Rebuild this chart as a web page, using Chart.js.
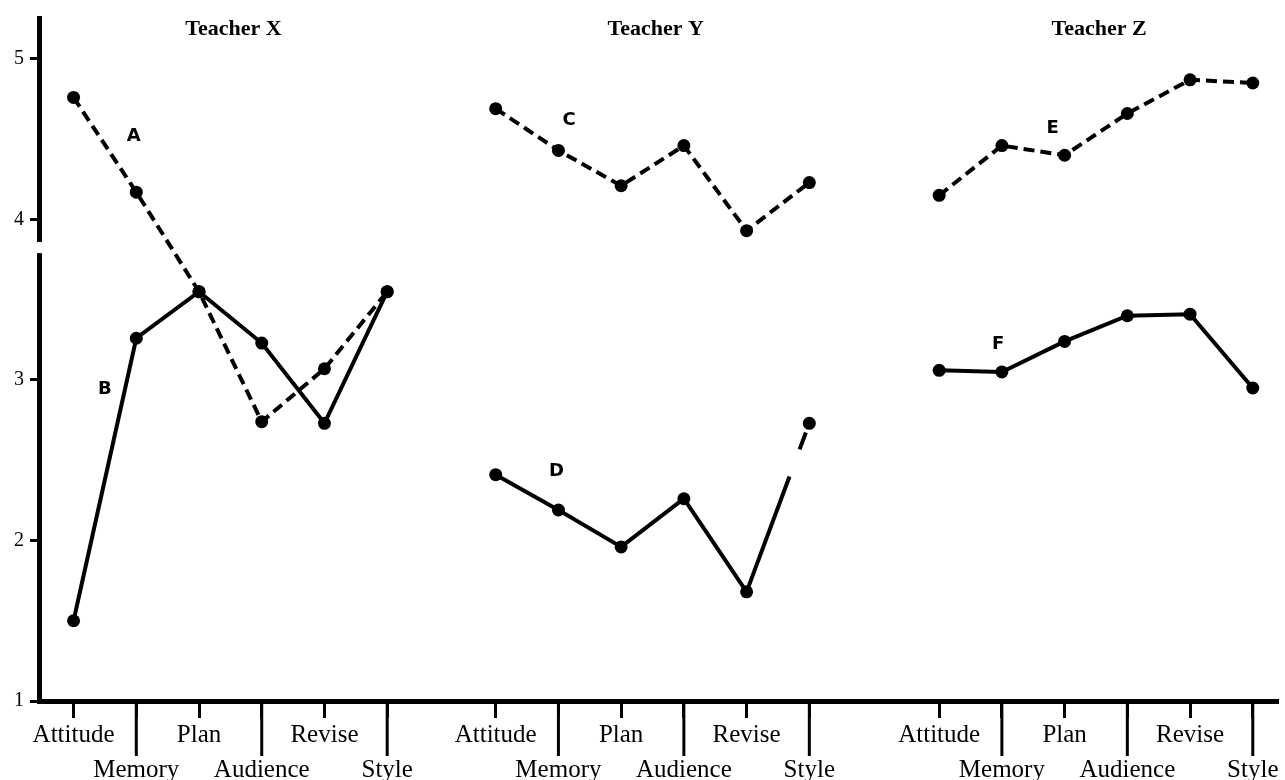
<!DOCTYPE html>
<html lang="en">
<head>
  <meta charset="UTF-8">
  <title>Teacher X / Y / Z profiles</title>
  <script src="https://cdn.jsdelivr.net/npm/chart.js"></script>
  <style>
    body {
      margin: 0;
      background-color: #ffffff;
      overflow: hidden;
    }
    canvas {
      display: block;
    }
  </style>
</head>
<body>

  <canvas id="profileChart" width="1285" height="780"></canvas>

  <script>
    const categories = ['Attitude', 'Memory', 'Plan', 'Audience', 'Revise', 'Style'];
    const teachers = ['Teacher X', 'Teacher Y', 'Teacher Z'];
    const yTicks = [1, 2, 3, 4, 5];

    // Teacher X
    const lineA = [4.76, 4.17, 3.55, 2.74, 3.07, 3.55];
    const lineB = [1.50, 3.26, 3.55, 3.23, 2.73, 3.55];
    // Teacher Y
    const lineC = [4.69, 4.43, 4.21, 4.46, 3.93, 4.23];
    const lineD = [2.41, 2.19, 1.96, 2.26, 1.68, 2.73];
    // Teacher Z
    const lineE = [4.15, 4.46, 4.40, 4.66, 4.87, 4.85];
    const lineF = [3.06, 3.05, 3.24, 3.40, 3.41, 2.95];

    const letters = ['A', 'B', 'C', 'D', 'E', 'F'];

    // layout: where each teacher's block starts on the x scale, and where the letters sit
    const groupStart = [0, 6.73, 13.8];
    const letterSpots = [[0.96, 4.52], [0.5, 2.94], [1.17, 4.62], [0.97, 2.43], [1.81, 4.57], [0.94, 3.22]];

    const series = [
      { values: lineA, group: 0, dashed: true },
      { values: lineB, group: 0, dashed: false },
      { values: lineC, group: 1, dashed: true },
      { values: lineD, group: 1, dashed: false },
      { values: lineE, group: 2, dashed: true },
      { values: lineF, group: 2, dashed: false }
    ];

    const datasets = series.map((s, k) => {
      const ds = {
        label: letters[k],
        data: s.values.map((v, i) => ({ x: groupStart[s.group] + i, y: v })),
        borderColor: '#000',
        borderWidth: 4,
        borderDash: s.dashed ? [11, 6] : [],
        pointRadius: 6.5,
        pointBackgroundColor: '#000',
        pointBorderWidth: 0,
        fill: false,
        tension: 0
      };
      // the scan breaks D's last rise
      if (letters[k] === 'D') {
        ds.segment = { borderDash: ctx => ctx.p0DataIndex === 4 ? [123, 29, 18, 200] : undefined };
      }
      return ds;
    });

    const tickPositions = [];
    groupStart.forEach(g => categories.forEach((c, i) => tickPositions.push(g + i)));

    const decorations = {
      id: 'decorations',
      afterDraw(chart) {
        const ctx = chart.ctx;
        const x = chart.scales.x;
        const y = chart.scales.y;
        const area = chart.chartArea;
        ctx.save();

        // long ticks under Memory / Audience / Style
        ctx.strokeStyle = '#000';
        ctx.lineWidth = 3;
        tickPositions.forEach((p, i) => {
          if (i % 2 === 1) {
            const px = x.getPixelForValue(p);
            ctx.beginPath();
            ctx.moveTo(px, area.bottom);
            ctx.lineTo(px, area.bottom + 55);
            ctx.stroke();
          }
        });

        // break in the y axis
        ctx.fillStyle = '#fff';
        const yTop = y.getPixelForValue(3.86);
        const yBot = y.getPixelForValue(3.79);
        ctx.fillRect(area.left - 4, yTop, 8, yBot - yTop);

        // teacher titles
        ctx.fillStyle = '#000';
        ctx.textAlign = 'center';
        ctx.textBaseline = 'middle';
        ctx.font = 'bold 22px "Liberation Serif"';
        teachers.forEach((t, g) => {
          ctx.fillText(t, x.getPixelForValue(groupStart[g] + 2.55), 29);
        });

        // series letters
        ctx.font = 'bold 18px "DejaVu Sans"';
        letters.forEach((l, k) => {
          const g = series[k].group;
          const spot = letterSpots[k];
          ctx.fillText(l, x.getPixelForValue(groupStart[g] + spot[0]), y.getPixelForValue(spot[1]));
        });
        ctx.restore();
      }
    };

    const ctx = document.getElementById('profileChart').getContext('2d');
    const chart = new Chart(ctx, {
      type: 'line',
      data: { datasets: datasets },
      plugins: [decorations],
      options: {
        responsive: false,
        animation: false,
        layout: { padding: { top: 15, right: 0, left: 0, bottom: 0 } },
        plugins: {
          legend: { display: false },
          tooltip: { enabled: false }
        },
        hover: { mode: null },
        scales: {
          x: {
            type: 'linear',
            min: -0.551,
            max: 19.21,
            afterFit: scale => { scale.height = 79; },
            afterBuildTicks: scale => { scale.ticks = tickPositions.map(v => ({ value: v })); },
            border: { display: true, color: '#000', width: 5 },
            grid: {
              drawOnChartArea: false,
              drawTicks: true,
              tickLength: 17,
              tickWidth: 3,
              color: '#000'
            },
            ticks: {
              autoSkip: false,
              maxRotation: 0,
              padding: 0,
              color: '#000',
              font: { family: '"Liberation Serif"', size: 25, lineHeight: 1.4 },
              callback: (v, i) => {
                const name = categories[i % categories.length];
                return i % 2 === 1 ? ['', name] : name;
              }
            }
          },
          y: {
            type: 'linear',
            min: 1,
            max: 5.255,
            afterFit: scale => { scale.width = 39; },
            afterBuildTicks: scale => { scale.ticks = yTicks.map(v => ({ value: v })); },
            border: { display: true, color: '#000', width: 5 },
            grid: {
              drawOnChartArea: false,
              tickLength: 9,
              tickWidth: 3,
              color: '#000'
            },
            ticks: {
              padding: 6,
              color: '#000',
              font: { family: '"Liberation Serif"', size: 20 }
            }
          }
        }
      }
    });
  </script>

</body>
</html>
